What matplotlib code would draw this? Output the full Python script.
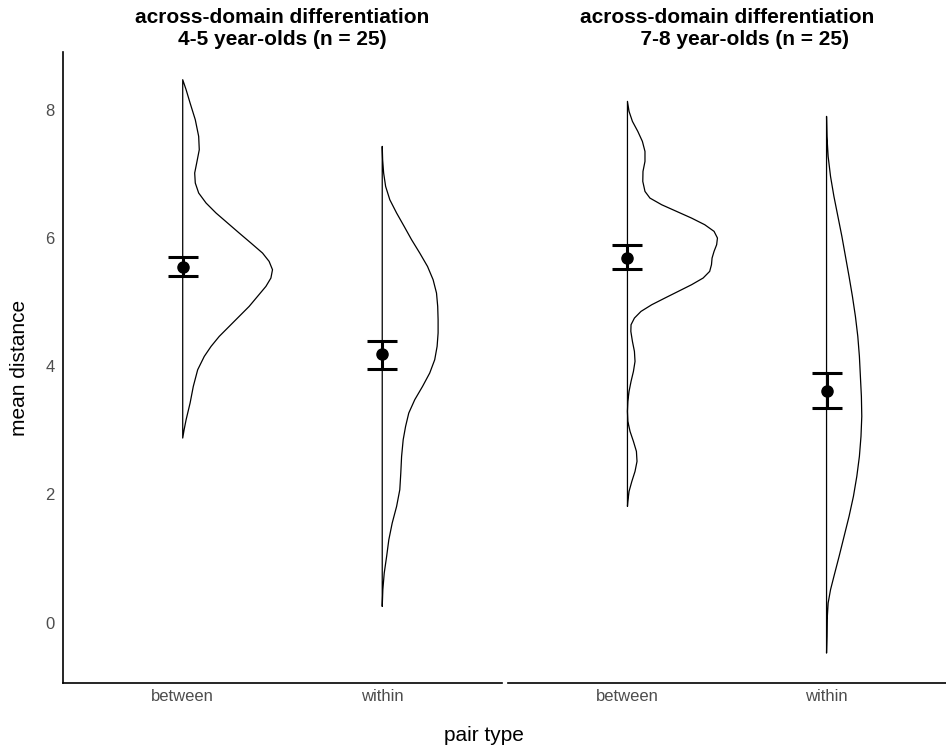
import matplotlib.pyplot as plt

plt.rcParams['font.family'] = ['Liberation Sans', 'DejaVu Sans']

categories = ['between', 'within']
titles = ['across-domain differentiation\n4-5 year-olds (n = 25)',
          'across-domain differentiation\n      7-8 year-olds (n = 25)']

# half-violin outlines: y (mean distance) and width (x units)
y_45_between = [8.468, 8.312, 8.104, 7.844, 7.584, 7.376, 7.169, 7.013, 6.857, 6.701,
                6.545, 6.389, 6.233, 6.077, 5.921, 5.765, 5.635, 5.505, 5.375, 5.245,
                5.089, 4.933, 4.777, 4.621, 4.465, 4.309, 4.153, 3.945, 3.685, 3.426,
                3.166, 3.010, 2.880]
w_45_between = [0.0, 0.017, 0.037, 0.063, 0.08, 0.083, 0.07, 0.06, 0.063, 0.08,
                0.117, 0.167, 0.225, 0.283, 0.342, 0.40, 0.433, 0.45, 0.442, 0.417,
                0.375, 0.333, 0.283, 0.233, 0.183, 0.142, 0.108, 0.075, 0.053, 0.037,
                0.017, 0.007, 0.0]

y_45_within = [7.428, 7.220, 7.013, 6.804, 6.596, 6.389, 6.180, 5.973, 5.765, 5.556,
               5.349, 5.141, 4.933, 4.725, 4.518, 4.309, 4.101, 3.894, 3.685, 3.478,
               3.270, 3.061, 2.854, 2.593, 2.334, 2.074, 1.814, 1.555, 1.294, 1.034,
               0.775, 0.515, 0.254]
w_45_within = [0.0, 0.002, 0.007, 0.017, 0.038, 0.072, 0.11, 0.147, 0.188, 0.227,
               0.255, 0.272, 0.278, 0.28, 0.28, 0.275, 0.263, 0.238, 0.202, 0.163,
               0.133, 0.117, 0.105, 0.097, 0.093, 0.088, 0.072, 0.05, 0.033, 0.022,
               0.01, 0.003, 0.0]

y_78_between = [8.130, 7.974, 7.818, 7.662, 7.506, 7.350, 7.194, 7.038, 6.882, 6.726,
                6.622, 6.518, 6.414, 6.310, 6.207, 6.103, 5.999, 5.895, 5.791, 5.687,
                5.583, 5.479, 5.375, 5.271, 5.167, 5.063, 4.959, 4.855, 4.751, 4.647,
                4.543, 4.387, 4.231, 4.075, 3.919, 3.763, 3.607, 3.452, 3.296, 3.140,
                2.984, 2.828, 2.672, 2.516, 2.360, 2.204, 2.048, 1.892, 1.814]
w_78_between = [0.0, 0.008, 0.025, 0.052, 0.075, 0.088, 0.088, 0.078, 0.077, 0.088,
                0.113, 0.172, 0.247, 0.322, 0.388, 0.435, 0.452, 0.448, 0.435, 0.425,
                0.422, 0.413, 0.38, 0.322, 0.255, 0.188, 0.122, 0.068, 0.035, 0.018,
                0.017, 0.025, 0.035, 0.038, 0.03, 0.018, 0.008, 0.002, 0.0, 0.002,
                0.013, 0.03, 0.045, 0.048, 0.038, 0.022, 0.008, 0.002, 0.0]

y_78_within = [7.896, 7.584, 7.272, 6.960, 6.649, 6.337, 6.025, 5.713, 5.401, 5.089,
               4.777, 4.465, 4.153, 3.841, 3.530, 3.218, 2.906, 2.594, 2.282, 1.970,
               1.658, 1.346, 1.034, 0.723, 0.515, 0.307, 0.047, -0.211, -0.473]
w_78_within = [0.0, 0.002, 0.008, 0.02, 0.037, 0.057, 0.077, 0.095, 0.113, 0.13,
               0.145, 0.157, 0.165, 0.17, 0.175, 0.177, 0.173, 0.165, 0.152, 0.135,
               0.113, 0.088, 0.063, 0.037, 0.02, 0.008, 0.003, 0.002, 0.0]

# means with error bar limits
mean_45 = [5.55, 4.19]
low_45 = [5.40, 3.96]
high_45 = [5.71, 4.40]
mean_78 = [5.69, 3.62]
low_78 = [5.52, 3.35]
high_78 = [5.89, 3.90]

panels = [
    ([(y_45_between, w_45_between), (y_45_within, w_45_within)], mean_45, low_45, high_45),
    ([(y_78_between, w_78_between), (y_78_within, w_78_within)], mean_78, low_78, high_78),
]

fig = plt.figure(figsize=(9.46, 7.45), dpi=100)
ax1 = fig.add_axes([0.0666, 0.0832, 0.464, 0.847])
ax2 = fig.add_axes([0.537, 0.0832, 0.463, 0.847])

for ax, title, (violins, means, lows, highs) in zip([ax1, ax2], titles, panels):
    for i, (vy, vw) in enumerate(violins):
        x0 = i + 1
        ax.fill_betweenx(vy, x0, [x0 + w for w in vw], facecolor='none',
                         edgecolor='black', linewidth=0.9, joinstyle='round')
    xs = [1, 2]
    err = [[m - l for m, l in zip(means, lows)], [h - m for m, h in zip(means, highs)]]
    ax.errorbar(xs, means, yerr=err, fmt='o', color='black', markersize=8,
                elinewidth=2.2, capsize=11, capthick=2.2, zorder=5)
    ax.set_xlim(0.4, 2.6)
    ax.set_ylim(-0.94, 8.9)
    ax.set_xticks(xs)
    ax.set_xticklabels(categories)
    ax.tick_params(length=0, labelsize=12, labelcolor='#4D4D4D')
    ax.tick_params(axis='x', pad=4)
    ax.tick_params(axis='y', pad=6)
    for s in ['top', 'right']:
        ax.spines[s].set_visible(False)
    ax.spines['bottom'].set_linewidth(1.2)
    ax.spines['left'].set_linewidth(1.2)
    ax.set_title(title, fontsize=15, fontweight='bold', linespacing=1.2, pad=5)

ax1.set_yticks([0, 2, 4, 6, 8])
ax1.set_ylabel('mean distance', fontsize=15, labelpad=12)
ax2.spines['left'].set_visible(False)
ax2.set_yticks([])

fig.text(0.512, 0.0134, 'pair type', ha='center', va='center', fontsize=15)

fig.savefig('out.png', dpi=100)
